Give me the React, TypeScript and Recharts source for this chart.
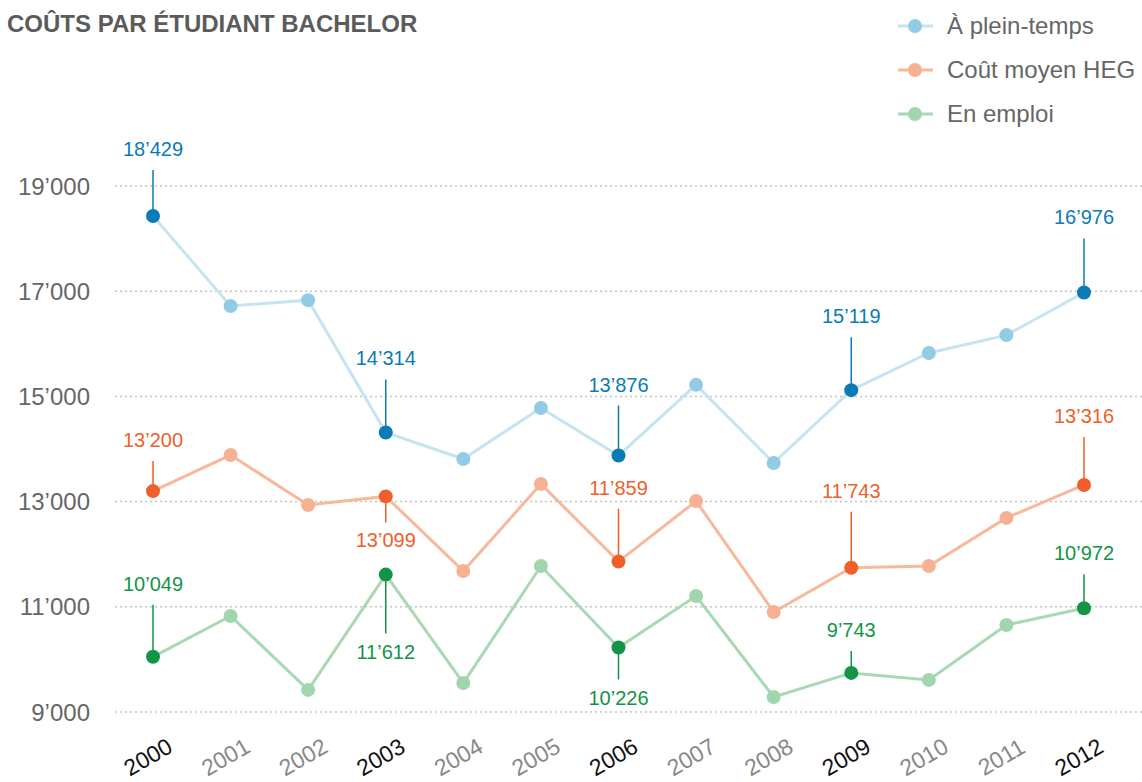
import React from "react";
import { CartesianGrid, Line, LineChart, XAxis, YAxis } from "recharts";

const years = [2000, 2001, 2002, 2003, 2004, 2005, 2006, 2007, 2008, 2009, 2010, 2011, 2012];
const pleinTemps = [18429, 16720, 16830, 14314, 13810, 14780, 13876, 15220, 13735, 15119, 15825, 16165, 16976];
const coutMoyen = [13200, 13885, 12935, 13099, 11680, 13335, 11859, 13010, 10900, 11743, 11775, 12690, 13316];
const enEmploi = [10049, 10825, 9420, 11612, 9550, 11775, 10226, 11205, 9285, 9743, 9610, 10655, 10972];
const yTicks = [9000, 11000, 13000, 15000, 17000, 19000];
const highlightYears = [2000, 2003, 2006, 2009, 2012];

const FONT = "'Liberation Sans', Arial, sans-serif";

type SeriesStyle = {
  key: string;
  name: string;
  line: string;
  dot: string;
  dark: string;
  // length of the annotation stem, + above the point, - below
  stems: Record<number, number>;
};

const series: SeriesStyle[] = [
  {
    key: "plein",
    name: "À plein-temps",
    line: "#c6e4f0",
    dot: "#93cbe5",
    dark: "#0a7bb6",
    stems: { 2000: 46, 2003: 53, 2006: 50, 2009: 53, 2012: 54 },
  },
  {
    key: "moyen",
    name: "Coût moyen HEG",
    line: "#f7b89b",
    dot: "#f6b192",
    dark: "#ee5f2a",
    stems: { 2000: 30, 2003: -26, 2006: 53, 2009: 56, 2012: 48 },
  },
  {
    key: "emploi",
    name: "En emploi",
    line: "#a8d9b4",
    dot: "#a2d5ad",
    dark: "#129447",
    stems: { 2000: 52, 2003: -59, 2006: -32, 2009: 22, 2012: 34 },
  },
];

const data = years.map((year, i) => ({
  year,
  plein: pleinTemps[i],
  moyen: coutMoyen[i],
  emploi: enEmploi[i],
}));

const fmt = (v: number) => {
  const s = String(Math.round(v));
  return s.length > 3 ? `${s.slice(0, -3)}’${s.slice(-3)}` : s;
};

function makeDot(s: SeriesStyle) {
  return (props: any) => {
    const { cx, cy, payload, value } = props;
    const year = payload.year;
    if (!highlightYears.includes(year)) {
      return <circle key={`${s.key}-${year}`} cx={cx} cy={cy} r={7} fill={s.dot} />;
    }
    const stem = s.stems[year] ?? 40;
    const endY = cy - stem;
    const textY = stem > 0 ? endY - 21 : endY + 18;
    return (
      <g key={`${s.key}-${year}`}>
        <line x1={cx} y1={cy} x2={cx} y2={endY} stroke={s.dark} strokeWidth={1.5} />
        <circle cx={cx} cy={cy} r={7} fill={s.dark} />
        <text
          x={cx}
          y={textY}
          textAnchor="middle"
          dominantBaseline="central"
          fontSize={20}
          fontFamily={FONT}
          fill={s.dark}
        >
          {fmt(value)}
        </text>
      </g>
    );
  };
}

const XTick = (props: any) => {
  const { x, y, payload } = props;
  const bold = highlightYears.includes(payload.value);
  const tx = x - 5;
  const ty = y + 45;
  return (
    <text
      x={tx}
      y={ty}
      transform={`rotate(-30 ${tx} ${ty})`}
      textAnchor="middle"
      dominantBaseline="central"
      fontSize={23}
      fontFamily={FONT}
      fill={bold ? "#111" : "#888"}
    >
      {payload.value}
    </text>
  );
};

const ChartLegend = () => (
  <div style={{ position: "absolute", left: 896, top: 4, fontFamily: FONT }}>
    {series.map((s, i) => (
      <div
        key={s.key}
        style={{ position: "absolute", left: 0, top: i * 44, height: 44, display: "flex", alignItems: "center" }}
      >
        <svg width={40} height={20}>
          <line x1={2} y1={10} x2={37} y2={10} stroke={s.line} strokeWidth={3} />
          <circle cx={19} cy={10} r={7} fill={s.dot} />
        </svg>
        <span style={{ marginLeft: 11, fontSize: 24, color: "#666", whiteSpace: "nowrap" }}>{s.name}</span>
      </div>
    ))}
  </div>
);

export default function App() {
  return (
    <div style={{ position: "absolute", left: 0, top: 0, width: 1142, height: 782, background: "#fff" }}>
      <div
        style={{
          position: "absolute",
          left: 7,
          top: 9,
          fontFamily: FONT,
          fontWeight: 700,
          fontSize: 24,
          lineHeight: "30px",
          color: "#5b5b5b",
          zIndex: 2,
        }}
      >
        COÛTS PAR ÉTUDIANT BACHELOR
      </div>
      <ChartLegend />
      <LineChart width={1142} height={782} data={data} margin={{ top: 186, right: 0, bottom: 0, left: 0 }}>
        <CartesianGrid horizontal vertical={false} stroke="#c4c4c4" strokeWidth={1.5} strokeDasharray="2 3" />
        <XAxis
          dataKey="year"
          type="number"
          domain={[2000, 2012]}
          ticks={years}
          padding={{ left: 38, right: 58 }}
          axisLine={false}
          tickLine={false}
          tickSize={0}
          tickMargin={0}
          height={70}
          interval={0}
          tick={<XTick />}
        />
        <YAxis
          domain={[9000, 19000]}
          ticks={yTicks}
          width={115}
          axisLine={false}
          tickLine={false}
          tickSize={0}
          tickMargin={25}
          tickFormatter={fmt}
          tick={{ fontSize: 24, fill: "#666", fontFamily: FONT }}
        />
        {series.map((s) => (
          <Line
            key={s.key}
            type="linear"
            dataKey={s.key}
            name={s.name}
            stroke={s.line}
            strokeWidth={3}
            dot={makeDot(s)}
            activeDot={false}
            isAnimationActive={false}
          />
        ))}
      </LineChart>
    </div>
  );
}
